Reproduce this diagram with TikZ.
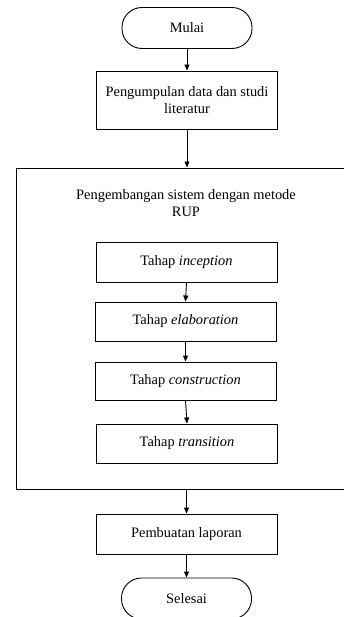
\documentclass[tikz,border=0pt]{standalone}
\usepackage{fontspec}
\setmainfont{Liberation Serif}
\usetikzlibrary{arrows.meta}
\begin{document}
\begin{tikzpicture}[x=1pt,y=-1pt,
  txt/.style={font=\fontsize{14.4}{17}\selectfont, align=center},
  box/.style={txt, draw, line width=0.9pt, minimum width=181pt, minimum height=40pt, inner sep=0pt},
  term/.style={txt, draw, line width=0.9pt, minimum width=130pt, minimum height=41pt, rounded corners=20pt, inner sep=0pt},
  arr/.style={-{Triangle[length=6pt,width=5pt]}, line width=0.9pt}]
\useasboundingbox (0,0) rectangle (344,617);
\clip (0,0) rectangle (344,617);
\node[term] (mulai) at (187,28) {Mulai};
\node[box, minimum height=58pt] (kumpul) at (187,100) {Pengumpulan data dan studi\\literatur};
\node[draw, line width=0.9pt, minimum width=334pt, minimum height=321pt, inner sep=0pt] (sys) at (183,328.5) {};
\node[txt] (systxt) at (186,203) {Pengembangan sistem dengan metode\\RUP};
\node[box] (incep) at (186.5,262) {Tahap \textit{inception}};
\node[box, minimum height=39pt] (elab) at (185.5,321.5) {Tahap \textit{elaboration}};
\node[box, minimum height=38pt] (cons) at (185.5,381) {Tahap \textit{construction}};
\node[box, minimum height=39pt] (trans) at (187,443.5) {Tahap \textit{transition}};
\node[box] (lapor) at (186.5,534) {Pembuatan laporan};
\node[term] (selesai) at (186.5,598.5) {Selesai};
\draw[arr] (mulai.south) -- (kumpul.north);
\draw[arr] (kumpul.south) -- (kumpul.south |- sys.north);
\draw[arr] (incep.south) -- (elab.north);
\draw[arr] (elab.south) -- (cons.north);
\draw[arr] (cons.south) -- (trans.north);
\draw[arr] (lapor.north |- sys.south) -- (lapor.north);
\draw[arr] (lapor.south) -- (selesai.north);
\end{tikzpicture}
\end{document}
